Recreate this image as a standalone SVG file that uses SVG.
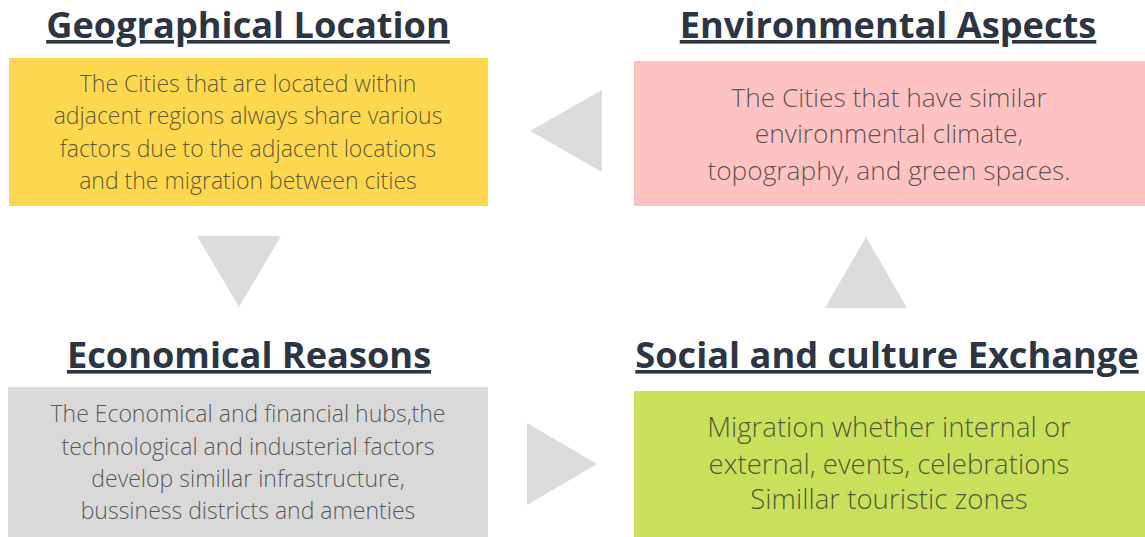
<svg xmlns="http://www.w3.org/2000/svg" width="1145" height="537" viewBox="0 0 1145 537">
<style>
.title{font-family:"Open Sans","Liberation Sans",sans-serif;font-weight:700;font-size:36.2px;fill:#2b3544;text-anchor:middle;text-decoration:underline}
.body{font-family:"Open Sans","Liberation Sans",sans-serif;font-weight:300;font-size:23px;fill:#333333;fill-opacity:0.8;text-anchor:middle}
.pink{font-size:26.3px}
.green{font-size:27.6px}
.arrow{fill:#dcdcdc}
</style>
<rect width="1145" height="537" fill="#ffffff"/>
<g id="connectors">
<polygon class="arrow" points="530,131 602,90 602,172"/>
<polygon class="arrow" points="197,236 281,236 239,307"/>
<polygon class="arrow" points="527,423 527,505 597,464"/>
<polygon class="arrow" points="825,308 907,308 866,237"/>
</g>
<g id="geo">
<text class="title" x="248" y="38">Geographical Location</text>
<rect x="9" y="58" width="479" height="148" fill="#fdd84e"/>
<text class="body" x="248" y="92">The Cities that are located within</text>
<text class="body" x="248" y="124">adjacent regions always share various</text>
<text class="body" x="248" y="157">factors due to the adjacent locations</text>
<text class="body" x="248" y="189">and the migration between cities</text>
</g>
<g id="env">
<text class="title" x="888" y="38">Environmental Aspects</text>
<rect x="634" y="61" width="511" height="145" fill="#ffc2c2"/>
<text class="body pink" x="889" y="107">The Cities that have similar</text>
<text class="body pink" x="889" y="143">environmental climate,</text>
<text class="body pink" x="889" y="180">topography, and green spaces.</text>
</g>
<g id="eco">
<text class="title" x="249" y="368">Economical Reasons</text>
<rect x="8" y="387" width="480" height="150" fill="#d9d9d9"/>
<text class="body" x="248" y="422">The Economical and financial hubs,the</text>
<text class="body" x="248" y="455">technological and industerial factors</text>
<text class="body" x="248" y="487">develop simillar infrastructure,</text>
<text class="body" x="248" y="519">bussiness districts and amenties</text>
</g>
<g id="soc">
<text class="title" x="887" y="368">Social and culture Exchange</text>
<rect x="634" y="391" width="511" height="146" fill="#c8e05a"/>
<text class="body green" x="889" y="437">Migration whether internal or</text>
<text class="body green" x="889" y="474">external, events, celebrations</text>
<text class="body green" x="889" y="509">Simillar touristic zones</text>
</g>
</svg>
